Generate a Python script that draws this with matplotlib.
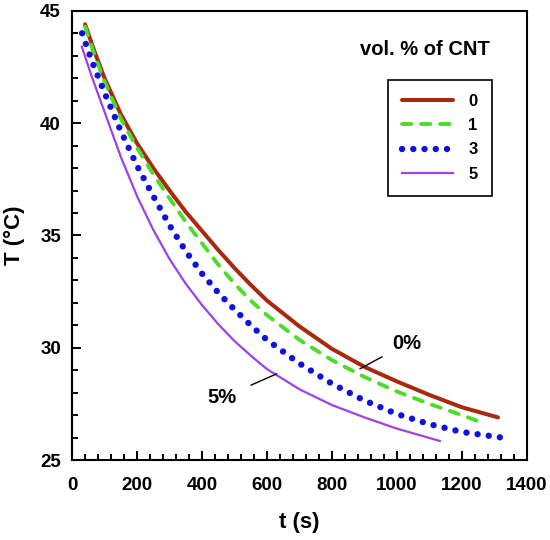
import matplotlib
matplotlib.use("Agg")
import matplotlib.pyplot as plt
from matplotlib.ticker import MultipleLocator

plt.rcParams['font.family'] = ['Liberation Sans', 'DejaVu Sans']
plt.rcParams['font.weight'] = 'bold'

# cooling curves, t in s, T in deg C
t0 = [40, 70, 100, 150, 200, 250, 300, 350, 400, 450, 500, 550, 600, 700, 800, 900, 1000, 1100, 1200, 1311]
T0 = [44.4, 43.15, 42.0, 40.4, 39.1, 38.0, 37.0, 36.05, 35.2, 34.35, 33.55, 32.8, 32.1, 30.95, 29.95, 29.15, 28.5, 27.9, 27.35, 26.9]

t1 = [40, 70, 100, 150, 200, 250, 300, 350, 400, 450, 500, 550, 600, 700, 800, 900, 1000, 1100, 1200, 1265]
T1 = [44.3, 43.0, 41.85, 40.2, 38.9, 37.72, 36.65, 35.6, 34.65, 33.7, 32.85, 32.1, 31.45, 30.35, 29.45, 28.7, 28.05, 27.5, 27.0, 26.65]

t3 = [31, 60, 100, 150, 200, 250, 300, 350, 400, 450, 500, 550, 600, 700, 800, 900, 1000, 1100, 1200, 1323]
T3 = [44.0, 42.8, 41.35, 39.65, 38.1, 36.75, 35.45, 34.3, 33.3, 32.45, 31.7, 31.0, 30.35, 29.3, 28.4, 27.65, 27.05, 26.6, 26.25, 26.0]

t5 = [30, 60, 100, 150, 200, 250, 300, 350, 400, 450, 500, 550, 600, 700, 800, 900, 1000, 1132]
T5 = [43.4, 42.1, 40.5, 38.5, 36.75, 35.25, 33.95, 32.85, 31.9, 31.05, 30.3, 29.65, 29.05, 28.15, 27.45, 26.9, 26.4, 25.85]

labels = ['0', '1', '3', '5']

fig = plt.figure(figsize=(5.5, 5.4), dpi=100)
ax = fig.add_axes([0.131, 0.148, 0.827, 0.832])

ax.plot(t0, T0, color='#a82a0c', lw=2.9, solid_capstyle='round', label=labels[0])
ax.plot(t1, T1, color='#4ddc2a', lw=2.8, linestyle=(0, (2.4, 2.5)),
        dash_capstyle='round', label=labels[1])
ax.plot(t3, T3, color='#1010e0', lw=4.6, linestyle=(0, (0.01, 1.75)),
        dash_capstyle='round', label=labels[2])
ax.plot(t5, T5, color='#a040e8', lw=1.6, label=labels[3])

ax.set_xlim(0, 1400)
ax.set_ylim(25, 45)
ax.xaxis.set_major_locator(MultipleLocator(200))
ax.xaxis.set_minor_locator(MultipleLocator(40))
ax.yaxis.set_major_locator(MultipleLocator(5))
ax.yaxis.set_minor_locator(MultipleLocator(1))
ax.tick_params(which='both', direction='in', width=1.4, labelsize=13.5)
ax.tick_params(which='major', length=6.5)
ax.tick_params(which='minor', length=4)
ax.tick_params(axis='x', which='major', pad=12)
ax.tick_params(axis='y', which='major', pad=8)
for s in ax.spines.values():
    s.set_linewidth(1.5)

ax.set_xlabel('t (s)', fontsize=16, fontweight='bold', labelpad=13)
ax.set_ylabel('T (°C)', fontsize=16, fontweight='bold', labelpad=11)

leg = ax.legend(loc='upper right', bbox_to_anchor=(0.923, 0.846), fontsize=12,
                handlelength=3.1, handletextpad=0.9, labelspacing=0.55,
                borderpad=0.85, borderaxespad=0, fancybox=False, framealpha=1,
                edgecolor='black')
leg.get_frame().set_linewidth(1.2)
ax.text(0.776, 0.913, 'vol. % of CNT', transform=ax.transAxes, ha='center',
        va='center', fontsize=14.5, fontweight='bold')

ax.annotate('0%', xy=(886, 29.06), xytext=(1030, 30.2), fontsize=14.5,
            fontweight='bold', ha='center', va='center',
            arrowprops=dict(arrowstyle='-', color='black', lw=1,
                            shrinkA=6, shrinkB=0))
ax.annotate('5%', xy=(630, 28.84), xytext=(462, 27.77), fontsize=14.5,
            fontweight='bold', ha='center', va='center',
            arrowprops=dict(arrowstyle='-', color='black', lw=1,
                            shrinkA=9, shrinkB=0))

fig.savefig('out.png', dpi=100)
